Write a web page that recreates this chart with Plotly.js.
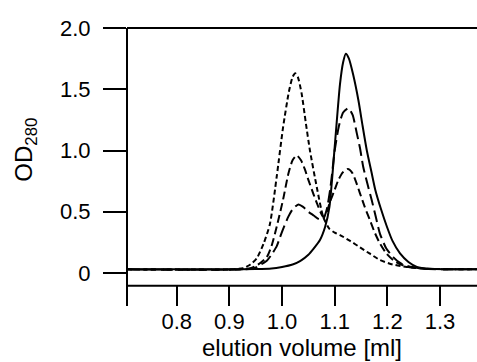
<!DOCTYPE html>
<html>
<head>
<meta charset="utf-8">
<script src="https://cdn.plot.ly/plotly-3.0.1.min.js"></script>
<style>html,body{margin:0;padding:0;background:#fff;}#chart{width:477px;height:362px;}</style>
</head>
<body>
<div id="chart"></div>
<script>
// Elution volume (ml) and OD280 for each run
const solidX = [0.705,0.90,0.95,0.98,1.00,1.02,1.035,1.05,1.06,1.072,1.082,1.09,1.10,1.11,1.116,1.121,1.127,1.135,1.145,1.153,1.161,1.17,1.177,1.188,1.199,1.21,1.224,1.24,1.256,1.28,1.37];
const solidY = [0.03,0.03,0.032,0.037,0.05,0.07,0.10,0.15,0.20,0.27,0.38,0.54,1.03,1.54,1.72,1.79,1.75,1.62,1.41,1.20,1.00,0.82,0.68,0.52,0.38,0.26,0.16,0.09,0.05,0.035,0.03];

const fineX = [0.705,0.90,0.926,0.94,0.952,0.965,0.977,0.99,1.002,1.013,1.02,1.025,1.03,1.037,1.045,1.053,1.066,1.078,1.09,1.10,1.11,1.13,1.148,1.166,1.186,1.21,1.237,1.27,1.37];
const fineY = [0.03,0.03,0.04,0.07,0.12,0.24,0.40,0.79,1.19,1.48,1.60,1.63,1.60,1.47,1.23,1.00,0.70,0.46,0.36,0.33,0.31,0.26,0.21,0.16,0.106,0.07,0.05,0.035,0.03];

const medX = [0.705,0.92,0.94,0.955,0.971,0.98,0.99,1.002,1.012,1.02,1.028,1.036,1.043,1.05,1.06,1.069,1.078,1.085,1.091,1.10,1.107,1.115,1.125,1.133,1.14,1.148,1.157,1.167,1.176,1.186,1.198,1.211,1.225,1.24,1.27,1.37];
const medY = [0.03,0.03,0.04,0.07,0.13,0.22,0.38,0.60,0.81,0.92,0.96,0.92,0.85,0.76,0.64,0.54,0.46,0.50,0.58,0.68,0.76,0.82,0.85,0.82,0.75,0.65,0.54,0.43,0.33,0.24,0.16,0.106,0.07,0.05,0.035,0.03];

const longX = [0.705,0.93,0.95,0.96,0.971,0.98,0.99,0.996,1.004,1.012,1.02,1.031,1.04,1.05,1.06,1.07,1.078,1.085,1.092,1.10,1.108,1.116,1.126,1.134,1.142,1.148,1.154,1.162,1.17,1.178,1.186,1.198,1.211,1.225,1.24,1.27,1.37];
const longY = [0.03,0.03,0.045,0.07,0.10,0.15,0.22,0.29,0.38,0.46,0.52,0.56,0.54,0.50,0.47,0.44,0.44,0.52,0.70,1.00,1.20,1.31,1.345,1.29,1.14,1.02,0.87,0.73,0.60,0.46,0.32,0.20,0.13,0.08,0.055,0.035,0.03];

const xTickVals = [0.8,0.9,1.0,1.1,1.2,1.3];
const xTickText = ['0.8','0.9','1.0','1.1','1.2','1.3'];
const yTickVals = [0,0.5,1.0,1.5,2.0];
const yTickText = ['0','0.5','1.0','1.5','2.0'];
const xTitle = 'elution volume [ml]';
const yTitle = 'OD<sub>280</sub>';

const FONT = 'Liberation Sans, Arial, Helvetica, sans-serif';
const xRange = [0.7056, 1.3702];
const yRange = [-0.269, 2.065];

function tr(x, y, dash) {
  return {x: x, y: y, type: 'scatter', mode: 'lines',
    line: {color: '#000', width: 2, dash: dash, shape: 'spline', smoothing: 0.6},
    hoverinfo: 'skip', showlegend: false};
}

const data = [
  tr(longX, longY, '12px,5px'),
  tr(medX, medY, '8px,4px'),
  tr(fineX, fineY, '5px,3px'),
  tr(solidX, solidY, 'solid')
];

const layout = {
  width: 477, height: 362,
  margin: {l: 127, r: 0, t: 20, b: 56, pad: 0},
  paper_bgcolor: '#fff', plot_bgcolor: '#fff',
  font: {family: FONT, color: '#000'},
  showlegend: false,
  xaxis: {
    range: xRange, showgrid: false, zeroline: false, showline: false,
    tickmode: 'array', tickvals: xTickVals, ticktext: xTickText,
    ticks: 'inside', ticklen: 21, tickwidth: 2, tickcolor: '#000',
    tickfont: {size: 22, family: FONT, color: '#000'},
    title: {text: xTitle, font: {size: 24, family: FONT, color: '#000'}, standoff: 0}
  },
  yaxis: {
    range: yRange, showgrid: false, zeroline: false, showline: false,
    tickmode: 'array', tickvals: yTickVals, ticktext: yTickText,
    ticks: 'outside', ticklen: 23, tickwidth: 2, tickcolor: '#000',
    ticklabelstandoff: 8,
    tickfont: {size: 22, family: FONT, color: '#000'}
  },
  annotations: [
    {text: yTitle, xref: 'paper', yref: 'paper', x: -0.29, y: 0.545,
     xanchor: 'center', yanchor: 'middle', textangle: -90, showarrow: false,
     font: {size: 24, family: FONT, color: '#000'}}
  ],
  shapes: [
    {type: 'line', xref: 'paper', yref: 'y', x0: 0, x1: 0, y0: yRange[0], y1: 2.0, line: {color: '#000', width: 2}},
    {type: 'line', xref: 'paper', yref: 'y', x0: 0, x1: 1, y0: 2.0, y1: 2.0, line: {color: '#000', width: 2}},
    {type: 'line', xref: 'paper', yref: 'y', x0: 0, x1: 1, y0: -0.104, y1: -0.104, line: {color: '#000', width: 2}}
  ]
};

Plotly.newPlot('chart', data, layout, {staticPlot: true, displayModeBar: false});
</script>
</body>
</html>
